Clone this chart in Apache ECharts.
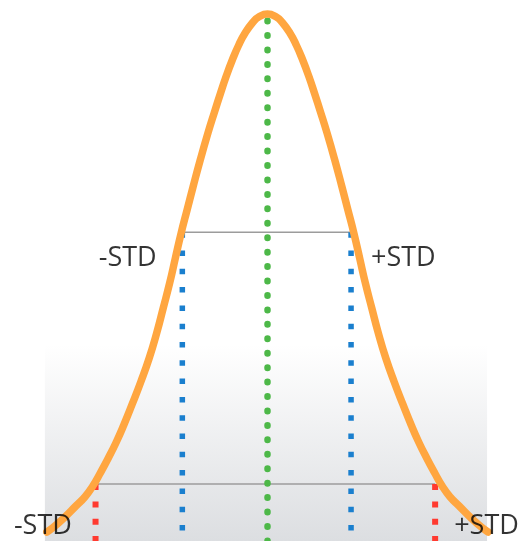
<!DOCTYPE html>
<html>
<head>
<meta charset="utf-8">
<script src="https://cdn.jsdelivr.net/npm/echarts@6/dist/echarts.min.js"></script>
<style>html,body{margin:0;padding:0;background:#fff;}#c{width:522px;height:541px;}</style>
</head>
<body>
<div id="c"></div>
<script>
// x in STD units from the mean, y as fraction of peak height
var curveX = [-2.600,-2.518,-2.388,-2.259,-2.153,-2.059,-1.971,-1.876,-1.782,-1.694,-1.594,-1.494,-1.394,-1.306,-1.229,-1.153,-1.086,-1.018,-0.948,-0.878,-0.793,-0.702,-0.629,-0.553,-0.490,-0.415,-0.339,-0.264,-0.170,-0.104,
  0.000,
  0.104,0.170,0.264,0.339,0.415,0.490,0.553,0.629,0.702,0.793,0.878,0.948,1.018,1.086,1.153,1.229,1.306,1.394,1.494,1.594,1.694,1.782,1.876,1.971,2.059,2.153,2.259,2.388,2.518,2.600];
var curveY = [0.0171,0.0266,0.0455,0.0664,0.0835,0.1044,0.1290,0.1575,0.1879,0.2201,0.2600,0.3017,0.3472,0.3947,0.4421,0.4896,0.5370,0.5844,0.6281,0.6717,0.7230,0.7742,0.8121,0.8501,0.8805,0.9127,0.9412,0.9639,0.9848,0.9943,
  1.0000,
  0.9943,0.9848,0.9639,0.9412,0.9127,0.8805,0.8501,0.8121,0.7742,0.7230,0.6717,0.6281,0.5844,0.5370,0.4896,0.4421,0.3947,0.3472,0.3017,0.2600,0.2201,0.1879,0.1575,0.1290,0.1044,0.0835,0.0664,0.0455,0.0266,0.0171];

var meanX = 0.0, meanTopY = 0.987;
var stdLeftX = -1.004, stdRightX = 0.985, stdY = 0.586;
var std2LeftX = -2.027, std2RightX = 1.976, std2Y = 0.108;

var labelText = ['-STD', '+STD', '-STD', '+STD'];
var labelX = [-1.306, 1.22, -2.306, 2.20];
var labelY = [0.537, 0.537, 0.0285, 0.0285];
var labelSide = ['left', 'right', 'left', 'right'];

var bgX = [-2.624, 2.588], bgTopY = 0.372;

var curveData = curveX.map(function (x, i) { return [x, curveY[i]]; });

function vline(x, yTop, color, width, dash, cap, z) {
  return {
    type: 'line', data: [[x, yTop], [x, 0]], symbol: 'none', clip: false, silent: true, z: z,
    lineStyle: { color: color, width: width, type: dash, cap: cap }
  };
}
function hline(x1, x2, y) {
  return {
    type: 'line', data: [[x1, y], [x2, y]], symbol: 'none', clip: false, silent: true, z: 2,
    lineStyle: { color: '#9c9c9c', width: 1.5 }
  };
}

var chart = echarts.init(document.getElementById('c'), null, { renderer: 'canvas' });
chart.setOption({
  animation: false,
  backgroundColor: '#ffffff',
  grid: { left: 13, width: 510, top: 14, height: 527, containLabel: false },
  xAxis: { type: 'value', min: -3, max: 3, show: false },
  yAxis: { type: 'value', min: 0, max: 1, show: false },
  series: [
    {
      type: 'line', data: [], symbol: 'none', z: 0, silent: true,
      markArea: {
        silent: true,
        itemStyle: {
          color: new echarts.graphic.LinearGradient(0, 0, 0, 1, [
            { offset: 0, color: '#ffffff' },
            { offset: 1, color: '#dcdee1' }
          ])
        },
        data: [[{ coord: [bgX[0], bgTopY] }, { coord: [bgX[1], 0] }]]
      }
    },
    hline(stdLeftX, stdRightX, stdY),
    hline(std2LeftX, std2RightX, std2Y),
    vline(meanX, meanTopY, '#4db848', 6.5, [0.5, 13.94], 'round', 3),
    vline(stdLeftX, stdY, '#1a7fce', 5.5, [5.5, 12.8], 'butt', 3),
    vline(stdRightX, stdY, '#1a7fce', 5.5, [5.5, 12.8], 'butt', 3),
    vline(std2LeftX, std2Y, '#ff3a30', 6, [6, 11.3], 'butt', 3),
    vline(std2RightX, std2Y, '#ff3a30', 6, [6, 11.3], 'butt', 3),
    {
      type: 'line', data: curveData, symbol: 'none', smooth: 0.5, clip: false, silent: true, z: 5,
      lineStyle: { color: '#ffa640', width: 7.5, cap: 'round', join: 'round' }
    },
    {
      type: 'scatter', symbolSize: 0, silent: true, z: 10, clip: false,
      data: labelText.map(function (t, i) {
        return {
          value: [labelX[i], labelY[i]], name: t,
          label: { show: true, position: labelSide[i], distance: 0, formatter: t,
                   fontFamily: 'Open Sans', fontSize: 27, color: '#000000' }
        };
      })
    }
  ]
});
</script>
</body>
</html>
